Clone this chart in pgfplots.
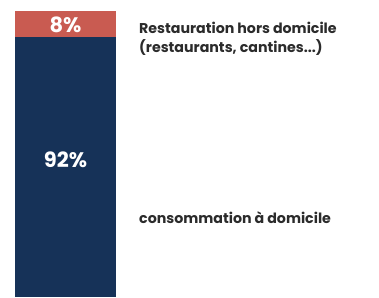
\documentclass[border=0pt]{standalone}
\usepackage{pgfplots}
\pgfplotsset{compat=1.18}
\usepackage{fontspec}
\setmainfont{Poppins}
\definecolor{navy}{HTML}{163258}
\definecolor{redc}{HTML}{C95B51}
\definecolor{txt}{HTML}{2B2B2B}
\begin{document}
\begin{tikzpicture}[x=1pt,y=1pt]
\useasboundingbox[fill=white] (0,0) rectangle (379,297);
\begin{axis}[at={(15pt,0pt)},anchor=south west,
  scale only axis, width=101pt, height=286pt,
  ybar stacked, bar width=101pt,
  xmin=-0.5, xmax=0.5, ymin=12, ymax=100,
  axis lines=none, ticks=none, clip=true,
  enlargelimits=false]
\addplot[fill=navy, draw=none] coordinates {(0,92)};
\addplot[fill=redc, draw=none] coordinates {(0,8)};
\coordinate (a) at (axis cs:0,54.2);
\coordinate (b) at (axis cs:0,95.8);
\end{axis}
\node[text=white, font=\bfseries\fontsize{21}{21}\selectfont, inner sep=0pt] at (a) {92\%};
\node[text=white, font=\bfseries\fontsize{21}{21}\selectfont, inner sep=0pt] at (b) {8\%};
\node[anchor=west, align=left, text=txt, font=\bfseries\fontsize{14.2}{19}\selectfont, inner sep=0pt] at (139,258) {Restauration hors domicile\\(restaurants, cantines...)};
\node[anchor=west, text=txt, font=\bfseries\fontsize{14.2}{19}\selectfont, inner sep=0pt] at (139,79) {consommation à domicile};
\end{tikzpicture}
\end{document}
